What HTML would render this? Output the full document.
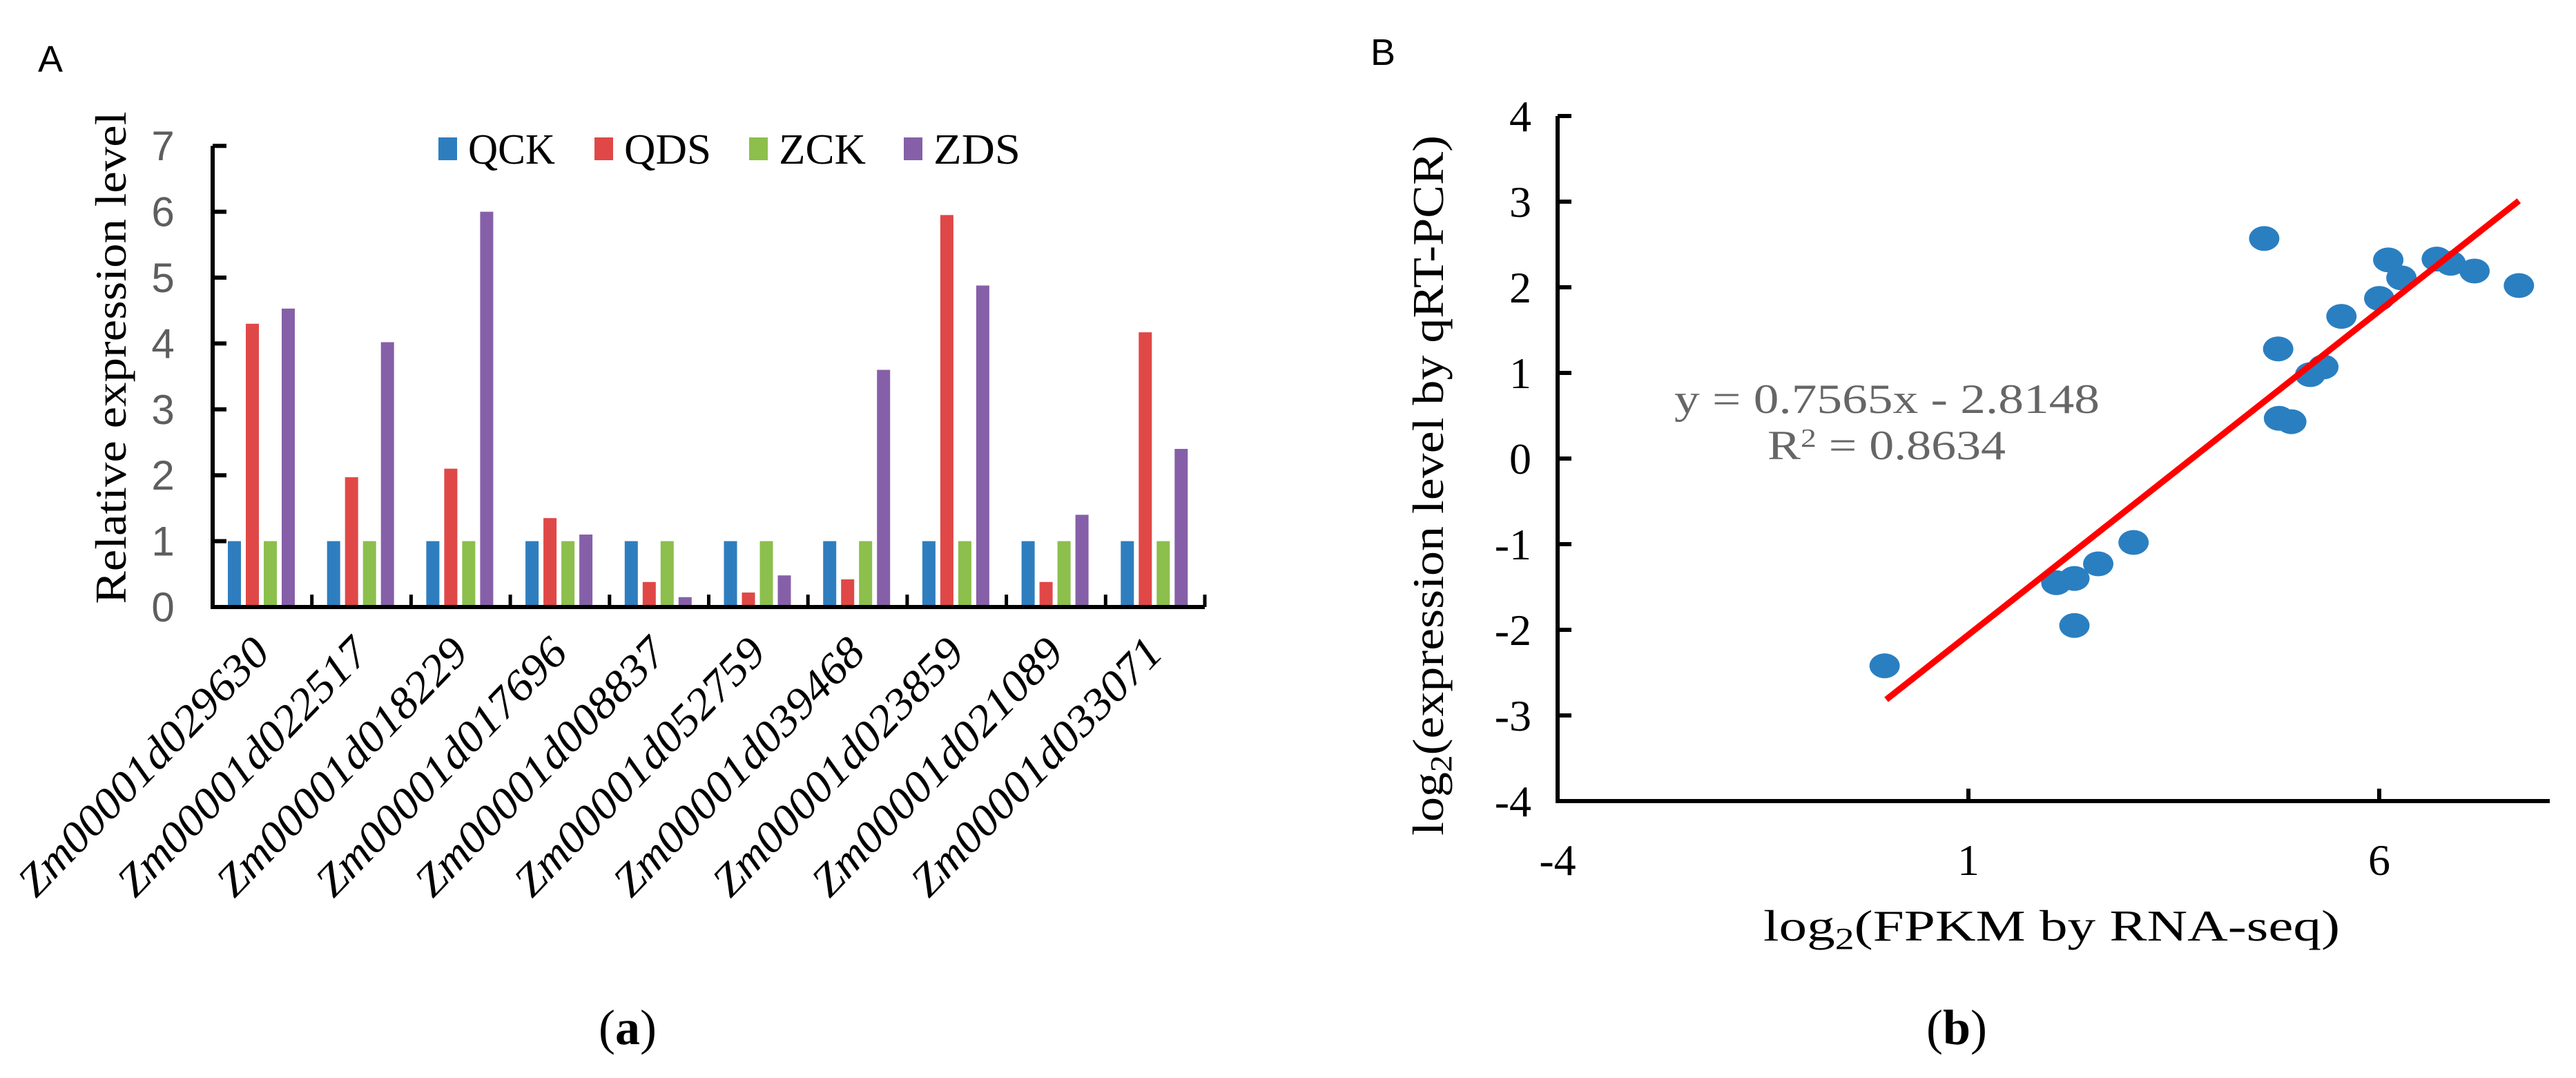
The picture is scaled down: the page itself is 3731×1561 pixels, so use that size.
<!DOCTYPE html>
<html><head><meta charset="utf-8"><style>
body{margin:0;background:#fff}
svg{display:block}
</style></head><body>
<svg id="fig" width="3731" height="1561" viewBox="0 0 3731 1561" xmlns="http://www.w3.org/2000/svg">
<rect width="3731" height="1561" fill="#fff"/>
<text x="55" y="104" font-family="Liberation Sans, sans-serif" font-size="54">A</text>
<text x="1985" y="94" font-family="Liberation Sans, sans-serif" font-size="54">B</text>
<g id="chartA"></g>
<g id="chartB"></g>
<text x="909" y="1512" text-anchor="middle" font-family="Liberation Serif, serif" font-size="72">(<tspan font-weight="bold">a</tspan>)</text>
<text x="2834" y="1512" text-anchor="middle" font-family="Liberation Serif, serif" font-size="72">(<tspan font-weight="bold">b</tspan>)</text>
</svg>
<script>
const genes = ["Zm00001d029630","Zm00001d022517","Zm00001d018229","Zm00001d017696","Zm00001d008837","Zm00001d052759","Zm00001d039468","Zm00001d023859","Zm00001d021089","Zm00001d033071"];
const seriesNames = ["QCK","QDS","ZCK","ZDS"];
const qck = [1,1,1,1,1,1,1,1,1,1];
const qds = [4.3,1.97,2.1,1.35,0.38,0.22,0.42,5.95,0.38,4.17];
const zck = [1,1,1,1,1,1,1,1,1,1];
const zds = [4.53,4.02,6.0,1.1,0.15,0.48,3.6,4.88,1.4,2.4];
const yTicksA = [0,1,2,3,4,5,6,7];

const fpkm = [4.60,4.77,6.11,6.27,6.0,5.54,6.70,6.87,7.16,7.70,5.16,5.32,4.78,4.93,3.01,2.58,2.29,2.07,2.29,-0.02];
const qpcr = [2.57,1.28,2.32,2.11,1.87,1.66,2.33,2.28,2.19,2.02,0.98,1.07,0.47,0.43,-0.98,-1.23,-1.40,-1.45,-1.95,-2.42];
const yTicksB = [-4,-3,-2,-1,0,1,2,3,4];
const xTicksB = [-4,1,6];
const slope = 0.7565, intercept = -2.8148;
const fitRange = [0.0, 7.7];

const NS="http://www.w3.org/2000/svg";
function mk(tag, attrs, parent, txt){const e=document.createElementNS(NS,tag);for(const k in attrs)e.setAttribute(k,attrs[k]);if(txt!==undefined)e.textContent=txt;parent.appendChild(e);return e;}

// ---- Chart A ----
const A=document.getElementById('chartA');
const ax0=308, ax1=1745, ay0=879, ayUnit=95.4;
const yA=v=>ay0-v*ayUnit;
const gw=(ax1-ax0)/genes.length;
const colors=["#2e7ebf","#e04848","#8cbf4c","#8560a8"];
const series=[qck,qds,zck,zds];
series.forEach((arr,si)=>{
  arr.forEach((v,gi)=>{
    const r=mk('rect',{x:ax0+gi*gw+22+si*26,y:yA(v),width:19,height:ay0-yA(v),fill:colors[si]},A);
    
    
  });
});
const axA=mk('path',{d:`M${ax0} ${yA(7)} V${ay0} H${ax1}`,stroke:'#000','stroke-width':6,fill:'none'},A);


yTicksA.forEach(t=>{
  const l=mk('line',{x1:ax0,x2:ax0+20,y1:yA(t),y2:yA(t),stroke:'#000','stroke-width':6},A);
  
  
  const tx=mk('text',{x:236,y:yA(t)+21,'text-anchor':'middle','font-family':'Liberation Sans, sans-serif','font-size':60,fill:'#5e5e5e'},A,String(t));
  
  
});
for(let i=1;i<=genes.length;i++){
  const l=mk('line',{x1:ax0+i*gw,x2:ax0+i*gw,y1:ay0,y2:ay0-18,stroke:'#000','stroke-width':5},A);
  
  
}
genes.forEach((g,gi)=>{
  const cx=ax0+gi*gw+gw/2+14;
  const t=mk('text',{x:0,y:0,transform:`translate(${cx},948) rotate(-46)`,'text-anchor':'end','font-family':'Liberation Serif, serif','font-style':'italic','font-size':64,textLength:492,lengthAdjust:'spacingAndGlyphs'},A,g);
  
  
});
const yt=mk('text',{x:0,y:0,transform:'translate(182,518) rotate(-90)','text-anchor':'middle','font-family':'Liberation Serif, serif','font-size':64,textLength:713,lengthAdjust:'spacingAndGlyphs'},A,'Relative expression level');


const legX=[635,861,1085,1309];
seriesNames.forEach((n,i)=>{
  const r=mk('rect',{x:legX[i],y:199,width:27,height:33,fill:colors[i]},A);
  
  
  const t=mk('text',{x:legX[i]+43,y:237,'font-family':'Liberation Serif, serif','font-size':62,textLength:126,lengthAdjust:'spacingAndGlyphs'},A,n);
  
  
});

// ---- Chart B ----
const B=document.getElementById('chartB');
const bx0=2256, bxUnit=119, bxMin=-4, bxEnd=3693;
const by0=1160, byUnit=124, byMin=-4;
const xB=v=>bx0+(v-bxMin)*bxUnit;
const yB=v=>by0-(v-byMin)*byUnit;
fpkm.forEach((v,i)=>{
  const c=mk('ellipse',{cx:xB(v),cy:yB(qpcr[i]),rx:22,ry:18,fill:'#2a7fc1'},B);
  
  
});
const fl=mk('line',{x1:xB(fitRange[0]),y1:yB(slope*fitRange[0]+intercept),x2:xB(fitRange[1]),y2:yB(slope*fitRange[1]+intercept),stroke:'#ff0000','stroke-width':9},B);


const axB=mk('path',{d:`M${bx0} ${yB(4)} V${by0} H${bxEnd}`,stroke:'#000','stroke-width':6,fill:'none'},B);


yTicksB.forEach(t=>{
  const l=mk('line',{x1:bx0,x2:bx0+20,y1:yB(t),y2:yB(t),stroke:'#000','stroke-width':6},B);
  
  
  const tx=mk('text',{x:2218,y:yB(t)+22,'text-anchor':'end','font-family':'Liberation Serif, serif','font-size':64},B,String(t));
  
  
});
xTicksB.forEach(t=>{
  if(t!==bxMin){
    const l=mk('line',{x1:xB(t),x2:xB(t),y1:by0,y2:by0-18,stroke:'#000','stroke-width':6},B);
    
    
  }
  const tx=mk('text',{x:xB(t),y:1267,'text-anchor':'middle','font-family':'Liberation Serif, serif','font-size':64},B,String(t));
  
  
});
const ytb=mk('text',{x:0,y:0,transform:'translate(2090,703) rotate(-90)','text-anchor':'middle','font-family':'Liberation Serif, serif','font-size':64,textLength:1014,lengthAdjust:'spacingAndGlyphs'},B);
ytb.innerHTML='log<tspan font-size="44" dy="12">2</tspan><tspan dy="-12">(expression level by qRT-PCR)</tspan>';


const xtb=mk('text',{x:2554,y:1362,'font-family':'Liberation Serif, serif','font-size':64,textLength:835,lengthAdjust:'spacingAndGlyphs'},B);
xtb.innerHTML='log<tspan font-size="44" dy="12">2</tspan><tspan dy="-12">(FPKM by RNA-seq)</tspan>';


const eq=mk('text',{x:2425,y:598,'font-family':'Liberation Serif, serif','font-size':60,fill:'#666',textLength:616,lengthAdjust:'spacingAndGlyphs'},B,'y = 0.7565x - 2.8148');


const r2=mk('text',{x:2560,y:665,'font-family':'Liberation Serif, serif','font-size':60,fill:'#666',textLength:345,lengthAdjust:'spacingAndGlyphs'},B);
r2.innerHTML='R<tspan font-size="38" dy="-18">2</tspan><tspan dy="18"> = 0.8634</tspan>';


</script>
</body></html>
